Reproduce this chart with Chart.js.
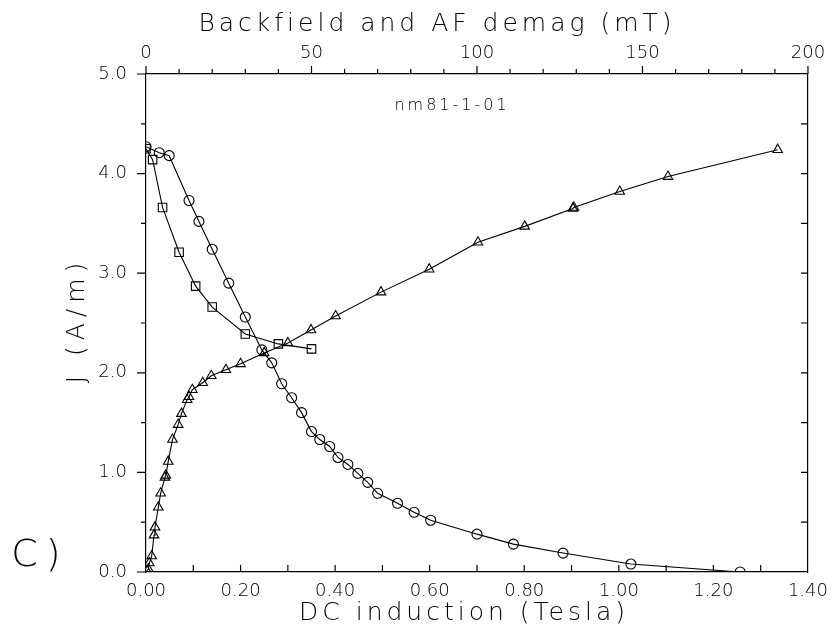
<!DOCTYPE html>
<html lang="en">
<head>
  <meta charset="UTF-8" />
  <title>nm81-1-01</title>
  <script src="https://cdn.jsdelivr.net/npm/chart.js"></script>
  <style>
    body { margin: 0; background: #fff; }
    #wrap { width: 837px; height: 639px; position: relative; }
  </style>
</head>
<body>
  <div id="wrap"><canvas id="magChart"></canvas></div>

  <script>
    // IRM acquisition (triangles), DC induction in Tesla
    const irmField = [0.002, 0.005, 0.007, 0.012, 0.017, 0.019, 0.026, 0.031, 0.040, 0.042, 0.047, 0.056,
      0.068, 0.075, 0.087, 0.091, 0.098, 0.120, 0.138, 0.169, 0.200, 0.250, 0.300, 0.349, 0.401,
      0.497, 0.599, 0.702, 0.801, 0.903, 0.905, 1.002, 1.104, 1.336];
    const irmJ = [0.01, 0.03, 0.09, 0.16, 0.37, 0.45, 0.65, 0.79, 0.95, 0.97, 1.11, 1.33,
      1.48, 1.59, 1.73, 1.76, 1.83, 1.90, 1.97, 2.03, 2.09, 2.20, 2.30, 2.43, 2.57,
      2.81, 3.04, 3.31, 3.47, 3.65, 3.66, 3.82, 3.97, 4.24];

    // Backfield (squares), mT
    const backField = [0, 2, 5, 10, 15, 20, 30, 40, 50];
    const backJ = [4.25, 4.14, 3.66, 3.21, 2.87, 2.66, 2.39, 2.29, 2.24];

    // AF demag (circles), mT
    const afField = [0, 4, 7, 13, 16, 20, 25, 30, 35, 38, 41, 44, 47, 50, 52.5, 55.5, 58, 61, 64, 67, 70,
      76, 81, 86, 100, 111, 126, 146.5, 179.5];
    const afJ = [4.27, 4.21, 4.18, 3.73, 3.52, 3.24, 2.90, 2.56, 2.23, 2.10, 1.89, 1.75, 1.60, 1.41, 1.33,
      1.26, 1.15, 1.08, 0.99, 0.90, 0.79, 0.69, 0.60, 0.52, 0.38, 0.28, 0.19, 0.08, 0.00];

    const FONT = '"DejaVu Sans", sans-serif';
    const WEIGHT = '200';
    const toXY = (xs, ys) => xs.map((x, i) => ({ x: x, y: ys[i] }));

    function series(data, style, axis) {
      return {
        data: data,
        xAxisID: axis,
        yAxisID: 'y',
        borderColor: '#000',
        borderWidth: 1.1,
        pointStyle: style,
        pointRadius: style === 'rect' ? 6 : (style === 'triangle' ? 5.5 : 5),
        pointBorderColor: '#000',
        pointBackgroundColor: 'rgba(0,0,0,0)',
        pointBorderWidth: 1.1,
        tension: 0,
        fill: false
      };
    }

    // tick marks and the free text of the figure
    const decor = {
      id: 'decor',
      afterDraw(chart) {
        const c = chart.ctx;
        const { x, x2, y } = chart.scales;
        const a = chart.chartArea;
        c.save();
        c.strokeStyle = '#000';
        c.lineWidth = 1.2;
        c.beginPath();
        for (let v = 0; v <= 5.001; v += 0.5) {
          const py = y.getPixelForValue(v);
          const major = Math.abs(v - Math.round(v)) < 1e-6;
          c.moveTo(a.left - (major ? 9 : 5), py); c.lineTo(a.left, py);
          if (v > 0.1 && v < 4.9) { c.moveTo(a.right - 7, py); c.lineTo(a.right, py); }
        }
        for (let v = 0.1; v < 1.4; v += 0.1) {
          const px = x.getPixelForValue(v);
          c.moveTo(px, a.bottom); c.lineTo(px, a.bottom - 7);
        }
        for (let v = 0; v <= 200; v += 10) {
          const px = x2.getPixelForValue(v);
          c.moveTo(px, a.top); c.lineTo(px, a.top - (v % 50 === 0 ? 8 : 5));
        }
        c.stroke();

        c.fillStyle = '#000';
        c.textAlign = 'center';
        c.textBaseline = 'middle';
        c.letterSpacing = '4px';
        c.font = WEIGHT + ' 25px ' + FONT;
        c.fillText('Backfield and AF demag (mT)', 437, 24);
        c.fillText('DC induction (Tesla)', 464, 613);
        c.save();
        c.translate(77, 320);
        c.rotate(-Math.PI / 2);
        c.letterSpacing = '6px';
        c.fillText('J (A/m)', 0, 0);
        c.restore();
        c.letterSpacing = '3px';
        c.font = WEIGHT + ' 16px ' + FONT;
        c.fillText('nm81-1-01', 452, 106);
        c.letterSpacing = '8px';
        c.font = WEIGHT + ' 38px ' + FONT;
        c.fillText('C)', 40, 556);
        c.restore();
      }
    };

    const axisBorder = { display: true, color: '#000', width: 1.2 };
    const tickFont = { family: FONT, size: 18, weight: WEIGHT };

    new Chart(document.getElementById('magChart'), {
      type: 'line',
      data: {
        datasets: [
          series(toXY(irmField, irmJ), 'triangle', 'x'),
          series(toXY(backField, backJ), 'rect', 'x2'),
          series(toXY(afField, afJ), 'circle', 'x2')
        ]
      },
      options: {
        responsive: true,
        maintainAspectRatio: false,
        animation: false,
        layout: { padding: 0 },
        plugins: { legend: { display: false }, tooltip: { enabled: false } },
        scales: {
          x: {
            type: 'linear', position: 'bottom', min: 0, max: 1.4,
            grid: { display: false, drawTicks: false },
            border: axisBorder,
            ticks: { stepSize: 0.2, color: '#000', font: tickFont, padding: 9,
              maxRotation: 0, callback: v => v.toFixed(2) },
            afterFit: s => { s.height = 67; }
          },
          x2: {
            type: 'linear', position: 'top', min: 0, max: 200,
            grid: { display: false, drawTicks: false },
            border: axisBorder,
            ticks: { stepSize: 50, color: '#000', font: tickFont, padding: 10, maxRotation: 0 },
            afterFit: s => { s.height = 74; }
          },
          y: {
            type: 'linear', position: 'left', min: 0, max: 5,
            grid: { display: false, drawTicks: false },
            border: axisBorder,
            ticks: { stepSize: 1, color: '#000', font: tickFont, padding: 19,
              callback: v => v.toFixed(1) },
            afterFit: s => { s.width = 146; }
          },
          y2: {
            type: 'linear', position: 'right', min: 0, max: 5,
            grid: { display: false, drawTicks: false },
            border: axisBorder,
            ticks: { display: false },
            afterFit: s => { s.width = 23; }
          }
        }
      },
      plugins: [decor]
    });
  </script>
</body>
</html>
